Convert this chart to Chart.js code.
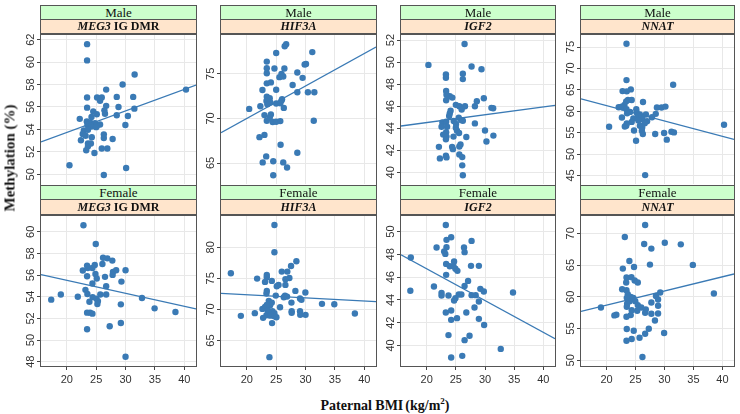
<!DOCTYPE html>
<html><head><meta charset="utf-8">
<script src="https://cdn.jsdelivr.net/npm/chart.js@4.4.1/dist/chart.umd.min.js"></script>
<style>
html,body{margin:0;padding:0;background:#fff;}
#wrap{position:relative;width:740px;height:414px;overflow:hidden;background:#fff;}
canvas{position:absolute;z-index:1;}
.strip{position:absolute;z-index:2;box-sizing:border-box;border:1px solid #555;font-family:"Liberation Serif","Times New Roman",serif;color:#111;display:flex;align-items:center;justify-content:center;white-space:nowrap;}
.g{background:#ccffcc;font-size:13px;}
.o{background:#ffe5cc;font-size:12px;font-weight:bold;}
.title{position:absolute;z-index:3;font-family:"Liberation Serif","Times New Roman",serif;font-weight:bold;font-size:14px;color:#111;white-space:nowrap;}
</style></head>
<body><div id="wrap"></div>
<script>
// ---------------- data ----------------
const sexes = ["Male", "Female"];
const genes = ["MEG3", "HIF3A", "IGF2", "NNAT"];
const geneSuffix = [" IG DMR", "", "", ""];
const bmiRange = [15.6, 42];
const xTickLabels = [20, 25, 30, 35, 40];

const yTicksMale = [[50,52,54,56,58,60,62],[65,70,75],[40,42,44,46,48,50,52],[45,50,55,60,65,70,75]];
const yTicksFemale = [[48,50,52,54,56,58,60],[65,70,75,80],[40,42,44,46,48,50],[50,55,60,65,70]];
const yRangeMale = [[49.1,62.45],[62.6,79.4],[38.9,52.5],[42.9,77.9]];
const yRangeFemale = [[47.6,61.5],[60.9,85.1],[38.2,51.4],[49.1,72.8]];

// fitted line values at BMI 15.6 and 42
const fitMale = [[52.88,57.95],[68.4,78.0],[44.2,46.07],[62.9,53.4]];
const fitFemale = [[56.05,52.87],[72.6,71.27],[47.96,40.6],[57.7,63.6]];

const meg3Male = [[23.45,61.6],[23.45,60.15],[31.55,58.9],[29.5,58.0],[26.7,57.55],[23.45,56.85],[25.15,56.85],[25.95,56.85],[25.66,56.55],[28.5,56.9],[31.3,56.9],[23.45,55.94],[26.7,56.1],[28.8,56.0],[24.5,55.6],[26.4,55.7],[25.1,55.35],[31.5,55.85],[28.5,55.26],[26.5,55.4],[22.2,54.94],[23.4,54.7],[24.2,55.1],[24.0,54.6],[24.8,54.56],[23.5,54.4],[24.2,54.26],[25.1,54.3],[25.66,54.44],[25.0,54.2],[30.4,55.2],[29.97,54.4],[22.9,53.9],[23.6,53.97],[22.7,53.6],[23.2,53.44],[26.3,53.56],[26.3,53.24],[24.25,53.3],[27.8,53.15],[22.4,53.03],[23.6,52.74],[24.1,52.74],[23.6,52.5],[23.3,52.15],[24.7,51.9],[25.95,52.3],[26.9,52.3],[20.45,50.8],[30.1,50.56],[26.3,49.94],[40.3,57.55]];
const hif3aMale = [[26.7,78.33],[26.45,78.1],[25.0,77.33],[31.15,77.44],[23.4,76.37],[30.08,76.11],[29.85,76.04],[23.4,75.63],[24.7,75.6],[26.4,75.6],[23.4,75.07],[28.6,75.15],[25.9,75.0],[25.55,74.63],[26.2,74.7],[29.5,74.55],[23.4,73.93],[24.1,74.04],[27.8,73.74],[22.66,73.19],[25.0,73.22],[28.6,72.93],[30.4,72.93],[31.5,72.93],[23.4,72.44],[23.9,72.26],[23.34,71.96],[26.0,72.15],[24.0,71.78],[25.9,72.0],[23.5,71.6],[22.3,71.37],[25.0,71.67],[25.7,71.7],[26.3,71.18],[20.4,71.07],[23.0,70.37],[24.1,70.44],[23.9,70.1],[23.4,69.74],[24.4,69.6],[25.0,69.63],[25.7,69.7],[31.4,69.74],[23.0,68.15],[22.15,67.9],[25.75,67.04],[28.6,66.15],[23.3,65.74],[22.7,65.07],[24.5,65.2],[26.2,65.07],[26.85,64.5],[24.5,63.63]];
const igf2Male = [[26.5,51.64],[20.3,49.75],[27.7,49.6],[29.4,49.36],[23.3,48.88],[26.2,48.94],[23.3,48.58],[26.2,48.46],[23.34,47.38],[23.96,46.9],[23.4,47.05],[24.4,46.78],[23.34,46.54],[28.6,46.45],[29.8,46.72],[28.27,46.0],[25.0,46.12],[25.6,46.0],[26.57,46.0],[26.0,45.7],[31.1,45.85],[31.4,45.82],[24.1,45.58],[23.96,45.34],[23.85,45.1],[25.5,44.95],[25.9,44.74],[26.2,44.68],[22.7,44.53],[23.34,44.59],[24.64,44.65],[25.04,44.38],[28.27,44.44],[22.55,44.14],[23.5,44.14],[25.0,44.05],[25.2,43.78],[23.34,43.63],[25.55,43.57],[30.0,43.8],[22.83,43.42],[23.4,43.24],[24.6,43.24],[31.44,43.33],[26.8,43.2],[23.3,43.0],[30.25,42.8],[25.8,42.52],[25.6,42.34],[22.1,42.31],[24.36,42.31],[24.5,42.1],[23.3,41.5],[22.27,41.26],[23.4,41.35],[25.6,41.62],[26.1,41.38],[26.1,40.63],[26.2,39.73]];
const nnatMale = [[23.45,75.77],[23.45,67.27],[24.2,65.1],[22.77,64.7],[23.5,64.64],[31.5,66.18],[23.7,62.63],[24.35,62.63],[23.4,62.3],[26.3,62.16],[23.1,61.47],[22.6,61.08],[22.1,60.92],[22.8,60.85],[23.45,60.46],[25.14,60.46],[25.2,59.69],[24.07,59.84],[23.56,59.53],[28.7,60.85],[29.5,60.85],[30.17,61.08],[25.76,59.22],[26.8,59.22],[25.42,58.9],[26.0,58.6],[28.5,59.38],[27.85,58.6],[22.66,58.53],[24.63,58.3],[26.2,58.14],[27.0,57.68],[26.6,57.2],[25.5,57.83],[24.35,57.5],[23.5,57.13],[23.4,56.6],[23.16,56.44],[25.76,56.6],[26.16,56.2],[20.45,56.36],[24.75,55.5],[26.1,55.43],[26.27,54.66],[28.4,54.66],[29.94,54.9],[31.2,55.2],[31.64,55.05],[25.1,53.1],[30.4,53.35],[40.28,56.83],[26.67,45.07]];
const meg3Female = [[22.83,60.61],[24.93,58.87],[23.45,56.88],[24.76,56.94],[26.17,57.6],[26.9,57.55],[27.75,57.34],[22.72,56.42],[23.57,56.66],[24.36,56.66],[26.06,57.03],[27.86,56.3],[28.4,56.45],[30.0,56.45],[27.8,56.02],[24.87,56.11],[23.45,55.9],[26.5,55.84],[25.1,55.68],[24.36,55.22],[29.3,55.4],[26.7,54.98],[23.17,54.64],[23.5,54.25],[26.7,54.21],[25.7,54.21],[17.34,53.73],[18.98,54.21],[21.87,54.0],[24.4,53.97],[25.04,53.82],[23.85,53.54],[25.3,53.6],[25.2,53.33],[32.8,53.88],[29.2,53.3],[34.95,52.93],[38.5,52.59],[23.45,52.53],[23.96,52.53],[24.36,52.44],[29.2,51.58],[27.3,51.28],[23.45,51.0],[30.0,48.46]];
const hif3aFemale = [[24.7,83.59],[24.7,79.2],[28.44,77.75],[27.53,77.0],[25.95,76.09],[26.9,76.09],[17.28,75.82],[23.4,75.55],[21.75,74.96],[23.4,75.18],[24.25,74.59],[23.1,74.43],[27.25,75.07],[26.57,74.86],[25.4,73.95],[25.1,73.73],[26.57,73.95],[23.4,72.98],[28.27,72.98],[29.97,72.72],[23.34,72.55],[24.93,72.23],[26.5,72.23],[26.3,71.97],[26.85,72.07],[29.06,71.75],[29.3,71.54],[23.74,71.38],[24.25,71.1],[23.96,70.68],[23.1,70.41],[23.4,70.73],[25.66,70.36],[22.66,70.09],[32.8,70.9],[34.9,70.84],[27.6,71.1],[23.57,69.88],[24.36,69.72],[24.7,69.4],[23.68,69.4],[21.36,69.4],[27.64,69.72],[27.64,69.45],[29.06,69.72],[23.34,69.07],[24.0,69.0],[24.7,68.9],[29.1,69.13],[30.0,69.13],[38.4,69.34],[18.98,68.97],[22.77,68.65],[25.04,68.75],[24.3,67.8],[23.85,62.32]];
const igf2Female = [[23.28,50.58],[24.2,49.5],[23.4,49.27],[27.7,49.18],[21.7,48.6],[23.4,48.63],[26.4,48.6],[23.0,48.25],[26.5,48.19],[23.2,48.04],[17.28,47.72],[24.7,47.37],[23.34,47.16],[23.96,46.96],[24.6,46.96],[24.93,46.73],[25.27,46.55],[27.6,46.99],[28.95,46.99],[23.34,46.2],[27.1,45.67],[21.25,45.18],[17.2,44.8],[26.5,45.23],[29.2,44.97],[29.8,44.74],[34.8,44.65],[22.55,44.62],[22.55,44.39],[23.74,44.39],[25.5,44.47],[25.95,44.47],[27.7,44.42],[28.4,44.42],[24.93,44.15],[24.7,43.95],[28.95,43.86],[28.2,43.33],[24.2,43.07],[23.28,42.9],[26.8,42.9],[25.2,42.4],[24.2,42.25],[28.95,42.34],[29.85,41.8],[23.74,40.91],[27.35,40.85],[26.5,40.47],[32.7,39.7],[26.1,39.09],[24.2,38.95]];
const nnatFemale = [[26.67,71.31],[23.16,69.42],[30.06,68.53],[26.5,68.32],[32.82,68.27],[27.74,67.6],[23.95,65.65],[27.5,65.08],[34.9,65.03],[22.82,64.45],[24.75,64.71],[23.45,63.04],[24.3,63.1],[24.86,62.57],[25.4,62.25],[23.4,62.25],[22.7,61.2],[23.45,61.05],[29.27,60.68],[38.53,60.52],[23.67,60.42],[24.18,60.0],[24.63,59.84],[28.53,60.15],[23.5,59.84],[24.97,59.32],[24.0,59.32],[28.9,59.58],[27.74,59.1],[23.56,58.9],[25.4,58.7],[23.5,58.43],[26.0,58.32],[19.04,58.32],[28.9,58.59],[24.35,57.9],[26.78,58.0],[25.3,57.8],[26.67,57.49],[27.74,57.33],[28.9,57.38],[21.7,57.17],[21.36,57.07],[24.18,57.12],[23.45,56.86],[28.36,56.28],[23.5,54.92],[27.3,54.97],[24.7,54.66],[26.67,54.19],[29.94,54.29],[25.7,53.56],[23.45,53.09],[24.35,53.35],[26.2,50.52]];

const pointsMale = [meg3Male, hif3aMale, igf2Male, nnatMale];
const pointsFemale = [meg3Female, hif3aFemale, igf2Female, nnatFemale];

// ---------------- layout ----------------
const COL = "#3a7ab5";
const cols = [{x:41,w:155},{x:221,w:155},{x:401,w:154},{x:581,w:153}];
const rows = [{y:34,h:151,strip:5},{y:215,h:151,strip:185}];
const wrap = document.getElementById('wrap');

const framePlugin = {
  id: 'frame',
  afterDraw(c) {
    const a = c.chartArea, ctx = c.ctx;
    ctx.save();
    ctx.strokeStyle = '#555';
    ctx.lineWidth = 1;
    ctx.strokeRect(Math.round(a.left) - 0.5, Math.round(a.top) - 0.5,
                   Math.round(a.right - a.left) + 1, Math.round(a.bottom - a.top) + 1);
    ctx.restore();
  }
};

function addStrip(cls, x, y, w, h, html) {
  const d = document.createElement('div');
  d.className = 'strip ' + cls;
  d.style.left = x + 'px'; d.style.top = y + 'px';
  d.style.width = w + 'px'; d.style.height = h + 'px';
  d.innerHTML = html;
  wrap.appendChild(d);
}

function makePanel(r, c) {
  const g = cols[c], rw = rows[r];
  const showX = r === 1;
  const pts = (r === 0 ? pointsMale : pointsFemale)[c];
  const fit = (r === 0 ? fitMale : fitFemale)[c];
  const yTicks = (r === 0 ? yTicksMale : yTicksFemale)[c];
  const yRange = (r === 0 ? yRangeMale : yRangeFemale)[c];
  const PADT = 6, PADR = 6, AXW = 30, AXH = showX ? 20 : 0, PADB = showX ? 4 : 6;
  const cw = AXW + g.w + PADR, ch = PADT + rw.h + AXH + PADB;
  const cv = document.createElement('canvas');
  cv.width = cw; cv.height = ch;
  cv.style.width = cw + 'px'; cv.style.height = ch + 'px';
  cv.style.left = (g.x - AXW) + 'px'; cv.style.top = (rw.y - PADT) + 'px';
  wrap.appendChild(cv);

  new Chart(cv, {
    type: 'scatter',
    data: {
      datasets: [
        { data: pts.map(p => ({x: p[0], y: p[1]})), backgroundColor: COL, borderColor: COL,
          pointRadius: 3.2, pointBorderWidth: 0, order: 2 },
        { type: 'line', data: [{x: bmiRange[0], y: fit[0]}, {x: bmiRange[1], y: fit[1]}],
          borderColor: COL, borderWidth: 1.3, pointRadius: 0, fill: false, order: 1 }
      ]
    },
    options: {
      responsive: false, animation: false, devicePixelRatio: 1,
      layout: { padding: { top: PADT, right: PADR, bottom: PADB, left: 0 } },
      plugins: { legend: { display: false }, tooltip: { enabled: false } },
      scales: {
        x: {
          type: 'linear', min: bmiRange[0], max: bmiRange[1],
          afterBuildTicks: s => { s.ticks = xTickLabels.map(v => ({ value: v })); },
          afterFit: s => { s.height = AXH; },
          grid: { color: '#e8e8e8', tickColor: '#444', tickLength: 4, drawTicks: showX },
          border: { display: false },
          ticks: { display: showX, color: '#333', padding: 3, minRotation: 0, maxRotation: 0,
                   font: { family: 'Liberation Sans', size: 11 } }
        },
        y: {
          type: 'linear', min: yRange[0], max: yRange[1],
          afterBuildTicks: s => { s.ticks = yTicks.map(v => ({ value: v })); },
          afterFit: s => { s.width = AXW; },
          grid: { color: '#e8e8e8', tickColor: '#444', tickLength: 4, drawTicks: true },
          border: { display: false },
          ticks: { color: '#333', padding: 0, minRotation: 90, maxRotation: 90, crossAlign: 'center',
                   font: { family: 'Liberation Sans', size: 11 } }
        }
      }
    },
    plugins: [framePlugin]
  });

  // strips
  const sx = g.x - 1, sw = g.w + 2;
  addStrip('g', sx, rw.strip, sw, 15, sexes[r]);
  addStrip('o', sx, rw.strip + 14, sw, rw.y - rw.strip - 14,
           '<i>' + genes[c] + '</i>' + (geneSuffix[c] ? '&nbsp;' + geneSuffix[c].trim() : ''));
}

for (let r = 0; r < 2; r++) for (let c = 0; c < 4; c++) makePanel(r, c);

// axis titles
const yt = document.createElement('div');
yt.className = 'title';
yt.textContent = 'Methylation (%)';
yt.style.fontSize = '15px';
yt.style.left = '10px'; yt.style.top = '158px';
yt.style.transform = 'translate(-50%,-50%) rotate(-90deg)';
wrap.appendChild(yt);

const xt = document.createElement('div');
xt.className = 'title';
xt.innerHTML = 'Paternal BMI<span style="margin-left:2px"></span>(kg/m<sup style="font-size:9px;line-height:0">2</sup>)';
xt.style.left = '385px'; xt.style.top = '406px';
xt.style.transform = 'translate(-50%,-50%)';
wrap.appendChild(xt);
</script>
</body></html>
